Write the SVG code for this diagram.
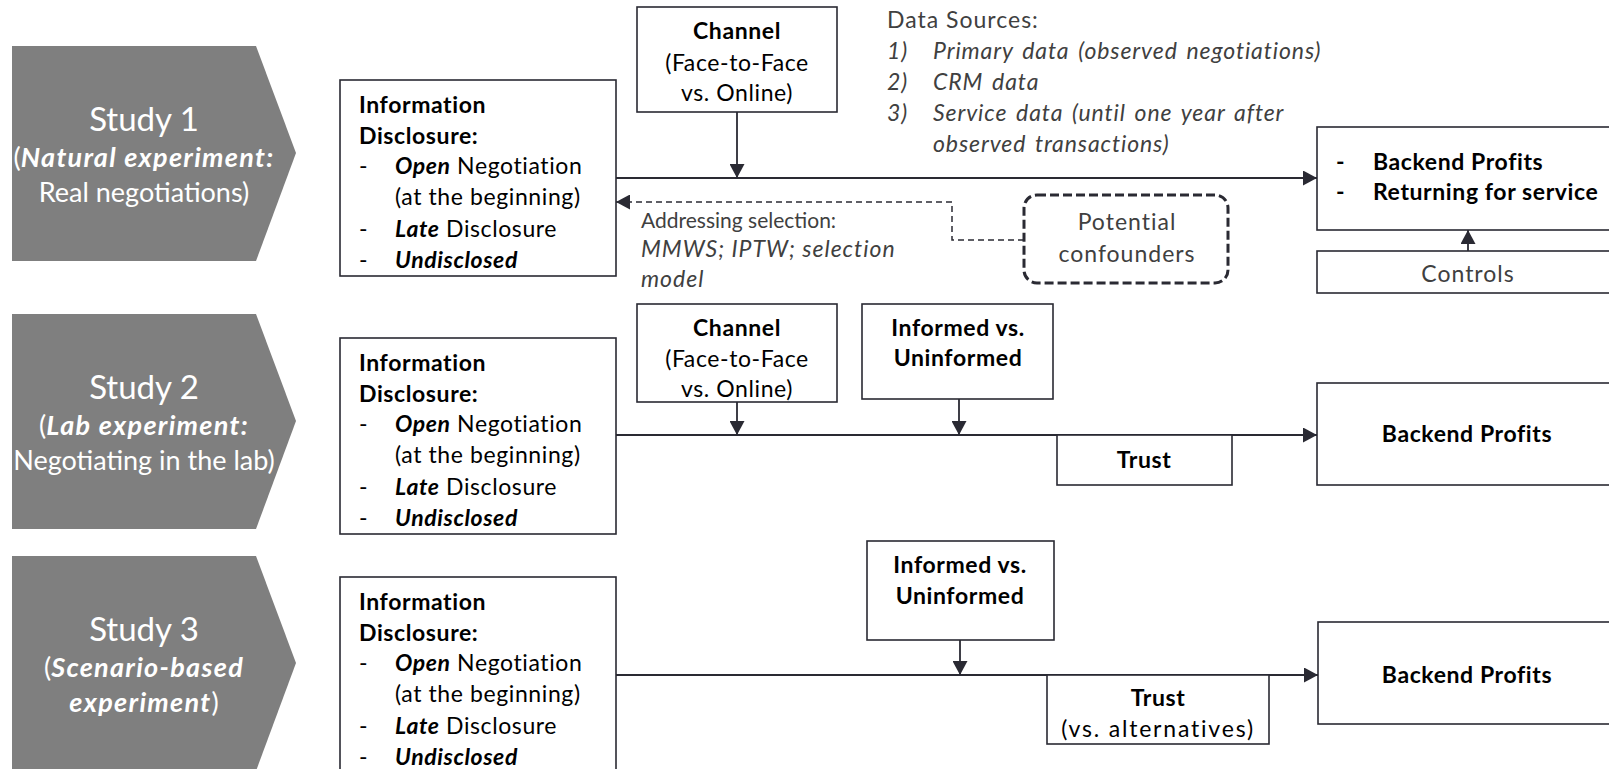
<svg xmlns="http://www.w3.org/2000/svg" width="1609" height="769" viewBox="0 0 1609 769">
<style>
text{font-family:Lato,"Liberation Sans",sans-serif;}
.chev{fill:#7f7f7f;}
.ct{fill:#fff;text-anchor:middle;}
.big{font-size:33px;}
.sub{font-size:27px;}
.sub .bi{letter-spacing:1.3px;}
.box{fill:#fff;stroke:#2a2a33;stroke-width:1.6;}
.t{font-size:23px;fill:#000;letter-spacing:0.6px;}
.g{font-size:23px;fill:#404040;letter-spacing:1px;}
.ds{word-spacing:2.5px;letter-spacing:0.9px;}
.a{font-size:21px;fill:#404040;}
.wide{letter-spacing:1.8px;}
.c{text-anchor:middle;}
.b{font-weight:bold;}
.bi{font-weight:bold;font-style:italic;}
.i{font-style:italic;}
.ln{stroke:#2a2a33;stroke-width:1.8;fill:none;}
.dash{stroke:#2a2a33;stroke-width:1.5;fill:none;stroke-dasharray:6 4;}
.conf{fill:#fff;stroke:#2a2a33;stroke-width:3;stroke-dasharray:9 4;}
</style>
<defs>
<marker id="ah" markerUnits="userSpaceOnUse" markerWidth="15" markerHeight="15" refX="14" refY="7.5" orient="auto">
<path d="M0,0 L14,7.5 L0,15 Z" fill="#2a2a33"/>
</marker>
</defs>
<rect width="1609" height="769" fill="#fff"/>

<g id="connectors">
<path class="ln" d="M616,178 H1317" marker-end="url(#ah)"/>
<path class="ln" d="M737,112 V178" marker-end="url(#ah)"/>
<path class="ln" d="M1468,251 V230" marker-end="url(#ah)"/>
<path class="dash" d="M1024,240 H952 V202 H616" marker-end="url(#ah)"/>
<path class="ln" d="M616,435 H1317" marker-end="url(#ah)"/>
<path class="ln" d="M737,402 V435" marker-end="url(#ah)"/>
<path class="ln" d="M959,399 V435" marker-end="url(#ah)"/>
<path class="ln" d="M616,675 H1318" marker-end="url(#ah)"/>
<path class="ln" d="M960,640 V675" marker-end="url(#ah)"/>
</g>

<g id="study1">
<path class="chev" d="M12,46 H256 L296,153 L256,261 H12 Z"/>
<text class="ct big" x="144" y="131">Study 1</text>
<text class="ct sub" x="144" y="167">(<tspan class="bi">Natural experiment:</tspan></text>
<text class="ct sub" x="144" y="202">Real negotiations)</text>
</g>

<g id="disclosure1">
<rect class="box" x="340" y="80" width="276" height="196"/>
<text class="t b" x="359" y="113">Information</text>
<text class="t b" x="359" y="144">Disclosure:</text>
<text class="t" x="359" y="174">-</text>
<text class="t" x="395" y="174"><tspan class="bi">Open</tspan> Negotiation</text>
<text class="t" x="395" y="205">(at the beginning)</text>
<text class="t" x="359" y="237">-</text>
<text class="t" x="395" y="237"><tspan class="bi">Late</tspan> Disclosure</text>
<text class="t" x="359" y="268">-</text>
<text class="t bi" x="395" y="268">Undisclosed</text>
</g>

<g id="channel1">
<rect class="box" x="637" y="7" width="200" height="105"/>
<text class="t b c" x="737" y="39">Channel</text>
<text class="t c" x="737" y="71">(Face-to-Face</text>
<text class="t c" x="737" y="101">vs. Online)</text>
</g>

<g id="datasources">
<text class="g" x="887" y="28">Data Sources:</text>
<text class="g i" x="887" y="59">1)</text>
<text class="g i ds" x="933" y="59">Primary data (observed negotiations)</text>
<text class="g i" x="887" y="90">2)</text>
<text class="g i ds" x="933" y="90">CRM data</text>
<text class="g i" x="887" y="121">3)</text>
<text class="g i ds" x="933" y="121">Service data (until one year after</text>
<text class="g i ds" x="933" y="152">observed transactions)</text>
</g>

<g id="addressing">
<text class="a" x="641" y="228">Addressing selection:</text>
<text class="g i" x="641" y="257">MMWS; IPTW; selection</text>
<text class="g i" x="641" y="287">model</text>
</g>

<g id="confounders">
<rect class="conf" x="1024" y="195" width="204" height="88" rx="13"/>
<text class="g c" x="1127" y="230">Potential</text>
<text class="g c" x="1127" y="262">confounders</text>
</g>

<g id="outcome1">
<rect class="box" x="1317" y="127" width="310" height="103"/>
<text class="t b" x="1336" y="170">-</text>
<text class="t b" x="1373" y="170">Backend Profits</text>
<text class="t b" x="1336" y="200">-</text>
<text class="t b" x="1373" y="200">Returning for service</text>
</g>

<g id="controls">
<rect class="box" x="1317" y="251" width="310" height="42"/>
<text class="g c" x="1468" y="282">Controls</text>
</g>

<g id="study2">
<path class="chev" d="M12,314 H256 L296,421 L256,529 H12 Z"/>
<text class="ct big" x="144" y="399">Study 2</text>
<text class="ct sub" x="144" y="435">(<tspan class="bi">Lab experiment:</tspan></text>
<text class="ct sub" x="144" y="470">Negotiating in the lab)</text>
</g>

<g id="disclosure2">
<rect class="box" x="340" y="338" width="276" height="196"/>
<text class="t b" x="359" y="371">Information</text>
<text class="t b" x="359" y="402">Disclosure:</text>
<text class="t" x="359" y="432">-</text>
<text class="t" x="395" y="432"><tspan class="bi">Open</tspan> Negotiation</text>
<text class="t" x="395" y="463">(at the beginning)</text>
<text class="t" x="359" y="495">-</text>
<text class="t" x="395" y="495"><tspan class="bi">Late</tspan> Disclosure</text>
<text class="t" x="359" y="526">-</text>
<text class="t bi" x="395" y="526">Undisclosed</text>
</g>

<g id="channel2">
<rect class="box" x="637" y="304" width="200" height="98"/>
<text class="t b c" x="737" y="336">Channel</text>
<text class="t c" x="737" y="367">(Face-to-Face</text>
<text class="t c" x="737" y="397">vs. Online)</text>
</g>

<g id="informed2">
<rect class="box" x="862" y="304" width="191" height="95"/>
<text class="t b c" x="958" y="336">Informed vs.</text>
<text class="t b c" x="958" y="366">Uninformed</text>
</g>

<g id="trust2">
<rect class="box" x="1057" y="435" width="175" height="50"/>
<text class="t b c" x="1144" y="468">Trust</text>
</g>

<g id="outcome2">
<rect class="box" x="1317" y="383" width="310" height="102"/>
<text class="t b c" x="1467" y="442">Backend Profits</text>
</g>

<g id="study3">
<path class="chev" d="M12,556 H256 L296,663 L256,771 H12 Z"/>
<text class="ct big" x="144" y="641">Study 3</text>
<text class="ct sub" x="144" y="677">(<tspan class="bi">Scenario-based</tspan></text>
<text class="ct sub" x="144" y="712"><tspan class="bi">experiment</tspan>)</text>
</g>

<g id="disclosure3">
<rect class="box" x="340" y="577" width="276" height="196"/>
<text class="t b" x="359" y="610">Information</text>
<text class="t b" x="359" y="641">Disclosure:</text>
<text class="t" x="359" y="671">-</text>
<text class="t" x="395" y="671"><tspan class="bi">Open</tspan> Negotiation</text>
<text class="t" x="395" y="702">(at the beginning)</text>
<text class="t" x="359" y="734">-</text>
<text class="t" x="395" y="734"><tspan class="bi">Late</tspan> Disclosure</text>
<text class="t" x="359" y="765">-</text>
<text class="t bi" x="395" y="765">Undisclosed</text>
</g>

<g id="informed3">
<rect class="box" x="867" y="541" width="187" height="99"/>
<text class="t b c" x="960" y="573">Informed vs.</text>
<text class="t b c" x="960" y="604">Uninformed</text>
</g>

<g id="trust3">
<rect class="box" x="1047" y="675" width="222" height="69"/>
<text class="t b c" x="1158" y="706">Trust</text>
<text class="t c wide" x="1158" y="737">(vs. alternatives)</text>
</g>

<g id="outcome3">
<rect class="box" x="1318" y="622" width="310" height="102"/>
<text class="t b c" x="1467" y="683">Backend Profits</text>
</g>
</svg>
